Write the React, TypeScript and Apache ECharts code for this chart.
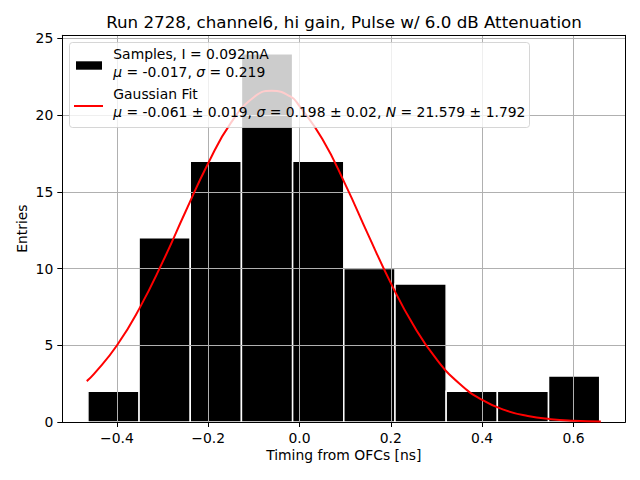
import React, { useEffect, useRef } from "react";
import * as echarts from "echarts";

const binEdges = [-0.4635, -0.3514, -0.2393, -0.1272, -0.0151, 0.097, 0.2091, 0.3212, 0.4333, 0.5454, 0.6575];
const binCounts = [2, 12, 17, 24, 17, 10, 9, 2, 2, 3];
const fitX = [-0.466, -0.45, -0.4, -0.35, -0.3, -0.25, -0.2, -0.15, -0.1, -0.061, -0.02, 0.0, 0.05, 0.1, 0.15, 0.2, 0.25, 0.3, 0.35, 0.4, 0.45, 0.5, 0.55, 0.6, 0.66];
const fitY = [2.664, 3.132, 4.983, 7.437, 10.415, 13.683, 16.866, 19.505, 21.164, 21.579, 21.212, 20.579, 18.441, 15.505, 12.23, 9.051, 6.285, 4.094, 2.503, 1.435, 0.772, 0.39, 0.185, 0.082, 0.029];
const xTicks = [-0.4, -0.2, 0.0, 0.2, 0.4, 0.6];
const yTicks = [0, 5, 10, 15, 20, 25];

const titleText = "Run 2728, channel6, hi gain, Pulse w/ 6.0 dB Attenuation";
const xLabel = "Timing from OFCs [ns]";
const yLabel = "Entries";
const legendLines = [
  "Samples, I = 0.092mA",
  "{i|μ} = -0.017, {i|σ} = 0.219",
  "Gaussian Fit",
  "{i|μ} = -0.061 ± 0.019, {i|σ} = 0.198 ± 0.02, {i|N} = 21.579 ± 1.792",
];

const FONT = "DejaVu Sans";

export default function App() {
  const ref = useRef<HTMLDivElement>(null);
  useEffect(() => {
    document.body.style.margin = "0";
    const chart = echarts.init(ref.current!, null, { renderer: "svg" });
    const xMin = -0.51955;
    const xMax = 0.71355;
    const yMax = 25.2;
    const labelStyle = { color: "#000000", fontSize: 13.9, fontFamily: FONT };
    const legendY = [54, 72, 94, 112];
    chart.setOption({
      animation: false,
      grid: { left: 62.3, right: 14.7, top: 35.3, bottom: 58, containLabel: false },
      xAxis: [
        {
          type: "value",
          min: xMin,
          max: xMax,
          z: 2,
          axisLine: { show: true, onZero: false, lineStyle: { color: "#000", width: 1 } },
          axisTick: { show: true, length: 5, lineStyle: { color: "#000", width: 1 }, customValues: xTicks },
          axisLabel: {
            ...labelStyle,
            margin: 9,
            customValues: xTicks,
            formatter: (v: number) => (v < -1e-9 ? "\u2212" : "") + Math.abs(v).toFixed(1),
          },
          splitLine: { show: true, lineStyle: { color: "#b0b0b0", width: 1 } },
          name: xLabel,
          nameLocation: "middle",
          nameGap: 26,
          nameMoveOverlap: false,
          nameTextStyle: { ...labelStyle, verticalAlign: "top" },
        },
        {
          type: "value",
          position: "top",
          min: xMin,
          max: xMax,
          z: 2,
          axisLine: { show: true, onZero: false, lineStyle: { color: "#000", width: 1 } },
          axisTick: { show: false },
          axisLabel: { show: false },
          splitLine: { show: false },
        },
      ],
      yAxis: [
        {
          type: "value",
          min: 0,
          max: yMax,
          z: 2,
          axisLine: { show: true, onZero: false, lineStyle: { color: "#000", width: 1 } },
          axisTick: { show: true, length: 5, lineStyle: { color: "#000", width: 1 }, customValues: yTicks },
          axisLabel: { ...labelStyle, margin: 9, customValues: yTicks, formatter: (v: number) => String(v) },
          splitLine: { show: true, lineStyle: { color: "#b0b0b0", width: 1 } },
          name: yLabel,
          nameLocation: "middle",
          nameRotate: 90,
          nameGap: 33,
          nameMoveOverlap: false,
          nameTextStyle: labelStyle,
        },
        {
          type: "value",
          position: "right",
          min: 0,
          max: yMax,
          z: 2,
          axisLine: { show: true, onZero: false, lineStyle: { color: "#000", width: 1 } },
          axisTick: { show: false },
          axisLabel: { show: false },
          splitLine: { show: false },
        },
      ],
      series: [
        {
          type: "custom",
          z: 1,
          xAxisIndex: 0,
          yAxisIndex: 0,
          data: binCounts.map((c, i) => [binEdges[i], binEdges[i + 1], c]),
          encode: { x: [0, 1], y: 2 },
          renderItem: (params: any, api: any) => {
            const x0 = api.value(0);
            const x1 = api.value(1);
            const c = api.value(2);
            const p0 = api.coord([x0, c]);
            const p1 = api.coord([x1, 0]);
            return {
              type: "rect",
              shape: { x: p0[0], y: p0[1], width: p1[0] - p0[0], height: p1[1] - p0[1] },
              style: { fill: "#000", stroke: "#fff", lineWidth: 1.5 },
            };
          },
        },
        {
          type: "line",
          z: 3,
          xAxisIndex: 0,
          yAxisIndex: 0,
          data: fitX.map((x, i) => [x, fitY[i]]),
          showSymbol: false,
          symbol: "none",
          smooth: true,
          lineStyle: { color: "#ff0000", width: 2 },
        },
      ],
      graphic: [
        {
          type: "text",
          z: 100,
          x: 344,
          y: 21.5,
          style: { text: titleText, fontSize: 16.7, fontFamily: FONT, fill: "#000", align: "center", verticalAlign: "middle" },
        },
        {
          type: "rect",
          z: 100,
          shape: { x: 69.5, y: 42.5, width: 460, height: 85, r: 3 },
          style: { fill: "rgba(255,255,255,0.8)", stroke: "rgba(204,204,204,0.8)", lineWidth: 1 },
        },
        {
          type: "rect",
          z: 101,
          shape: { x: 76, y: 61.3, width: 26, height: 8.4 },
          style: { fill: "#000" },
        },
        {
          type: "line",
          z: 101,
          shape: { x1: 74, y1: 106, x2: 103, y2: 106 },
          style: { stroke: "#ff0000", lineWidth: 2 },
        },
        ...legendLines.map((t, i) => ({
          type: "text",
          z: 101,
          x: 113.3,
          y: legendY[i],
          style: {
            text: t,
            fontSize: 13.9,
            fontFamily: FONT,
            fill: "#000",
            align: "left",
            verticalAlign: "middle",
            rich: { i: { fontStyle: "italic", fontSize: 13.9, fontFamily: FONT, fill: "#000" } },
          },
        })),
      ],
    });
    return () => chart.dispose();
  }, []);
  return <div ref={ref} style={{ width: 640, height: 480 }} />;
}
